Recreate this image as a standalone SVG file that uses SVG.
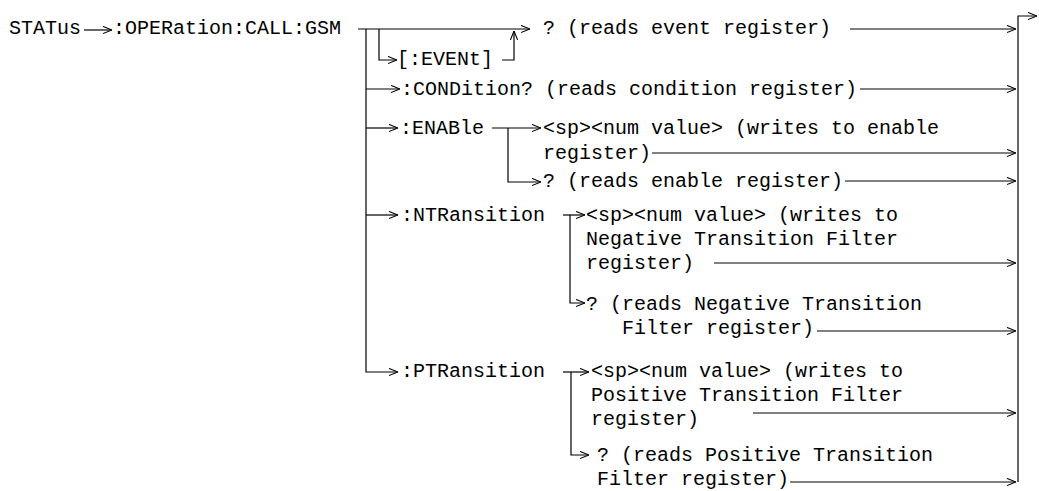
<svg xmlns="http://www.w3.org/2000/svg" width="1039" height="491" viewBox="0 0 1039 491">
<style>
text{font-family:"Liberation Mono","Courier New",monospace;font-size:20px;fill:#000}
.c path{fill:none;stroke:#000;stroke-width:1.2}
</style>
<defs>
<marker id="a" viewBox="0 0 10 10" refX="10" refY="5" markerWidth="9" markerHeight="9" markerUnits="userSpaceOnUse" orient="auto">
<path d="M0,1 L10,5 L0,9" fill="none" stroke="#000" stroke-width="1.2"/>
</marker>
</defs>
<rect width="1039" height="491" fill="#fff"/>
<g class="c" id="connectors">
<path d="M84,30 H112" marker-end="url(#a)"/>
<path d="M358,29 H530" marker-end="url(#a)"/>
<path d="M366,29 V372 H398" marker-end="url(#a)"/>
<path d="M379,29 V60 H397" marker-end="url(#a)"/>
<path d="M502,60 H514 V31" marker-end="url(#a)"/>
<path d="M850,29 H1016" marker-end="url(#a)"/>
<path d="M366,89 H400" marker-end="url(#a)"/>
<path d="M860,89 H1016" marker-end="url(#a)"/>
<path d="M366,128 H398" marker-end="url(#a)"/>
<path d="M492,128 H541" marker-end="url(#a)"/>
<path d="M508,128 V182 H541" marker-end="url(#a)"/>
<path d="M652,153 H1016" marker-end="url(#a)"/>
<path d="M845,181 H1016" marker-end="url(#a)"/>
<path d="M366,215 H398" marker-end="url(#a)"/>
<path d="M563,215 H585" marker-end="url(#a)"/>
<path d="M570,215 V303 H585" marker-end="url(#a)"/>
<path d="M714,263 H1016" marker-end="url(#a)"/>
<path d="M817,331 H1016" marker-end="url(#a)"/>
<path d="M563,372 H589" marker-end="url(#a)"/>
<path d="M571,372 V455 H589" marker-end="url(#a)"/>
<path d="M753,413 H1016" marker-end="url(#a)"/>
<path d="M790,482 H1016" marker-end="url(#a)"/>
<path d="M1018,482 V16 H1037" marker-end="url(#a)"/>
</g>
<g id="n-status"><text x="9" y="34">STATus</text></g>
<g id="n-operation"><text x="113" y="34">:OPERation:CALL:GSM</text></g>
<g id="n-event"><text x="397" y="65">[:EVENt]</text></g>
<g id="n-event-q"><text x="543" y="34">? (reads event register)</text></g>
<g id="n-condition"><text x="401" y="95">:CONDition? (reads condition register)</text></g>
<g id="n-enable"><text x="400" y="134">:ENABle</text></g>
<g id="n-enable-w"><text x="543" y="134">&lt;sp&gt;&lt;num value&gt; (writes to enable</text><text x="543" y="159">register)</text></g>
<g id="n-enable-q"><text x="543" y="187">? (reads enable register)</text></g>
<g id="n-ntr"><text x="401" y="221">:NTRansition</text></g>
<g id="n-ntr-w"><text x="586" y="221">&lt;sp&gt;&lt;num value&gt; (writes to</text><text x="586" y="245">Negative Transition Filter</text><text x="586" y="269">register)</text></g>
<g id="n-ntr-q"><text x="586" y="310">? (reads Negative Transition</text><text x="622" y="334">Filter register)</text></g>
<g id="n-ptr"><text x="401" y="377">:PTRansition</text></g>
<g id="n-ptr-w"><text x="591" y="377">&lt;sp&gt;&lt;num value&gt; (writes to</text><text x="591" y="401">Positive Transition Filter</text><text x="591" y="425">register)</text></g>
<g id="n-ptr-q"><text x="597" y="461">? (reads Positive Transition</text><text x="597" y="485">Filter register)</text></g>
</svg>
